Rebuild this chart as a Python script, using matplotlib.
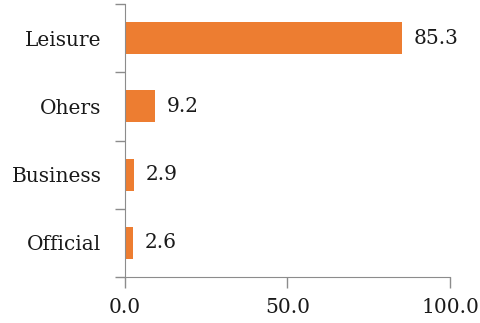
import matplotlib.pyplot as plt
from matplotlib.ticker import FixedLocator

# Purpose of visit shares (%)
categories = ["Official", "Business", "Ohers", "Leisure"]
values = [2.6, 2.9, 9.2, 85.3]
xticks = [0.0, 50.0, 100.0]

plt.rcParams["font.family"] = "DejaVu Serif"
axis_grey = "#8c8c8c"
bar_color = "#ED7D31"
text_color = "#1a1a1a"
fs = 14.5

fig = plt.figure(figsize=(4.81, 3.23), dpi=100)
ax = fig.add_axes([125 / 481, 46 / 323, 325 / 481, 273 / 323])

y = range(len(categories))
bars = ax.barh(y, values, height=0.47, color=bar_color)

for bar, v in zip(bars, values):
    ax.text(bar.get_width() + 3.6, bar.get_y() + bar.get_height() / 2,
            f"{v:.1f}", va="center", ha="left", fontsize=fs, color=text_color)

ax.set_xlim(0, 100)
ax.set_ylim(-0.5, len(categories) - 0.5)
ax.set_xticks(xticks)
ax.set_xticklabels([f"{t:.1f}" for t in xticks], fontsize=fs, color=text_color)
ax.set_yticks(list(y))
ax.set_yticklabels(categories, fontsize=fs, color=text_color)
ax.yaxis.set_minor_locator(FixedLocator([i - 0.5 for i in range(len(categories) + 1)]))

ax.tick_params(axis="y", which="major", length=0, pad=17)
ax.tick_params(axis="y", which="minor", length=7, color=axis_grey, width=1)
ax.tick_params(axis="x", length=8, color=axis_grey, width=1, pad=7)

for side in ["top", "right"]:
    ax.spines[side].set_visible(False)
for side in ["left", "bottom"]:
    ax.spines[side].set_color(axis_grey)

fig.savefig("out.png", dpi=100)
